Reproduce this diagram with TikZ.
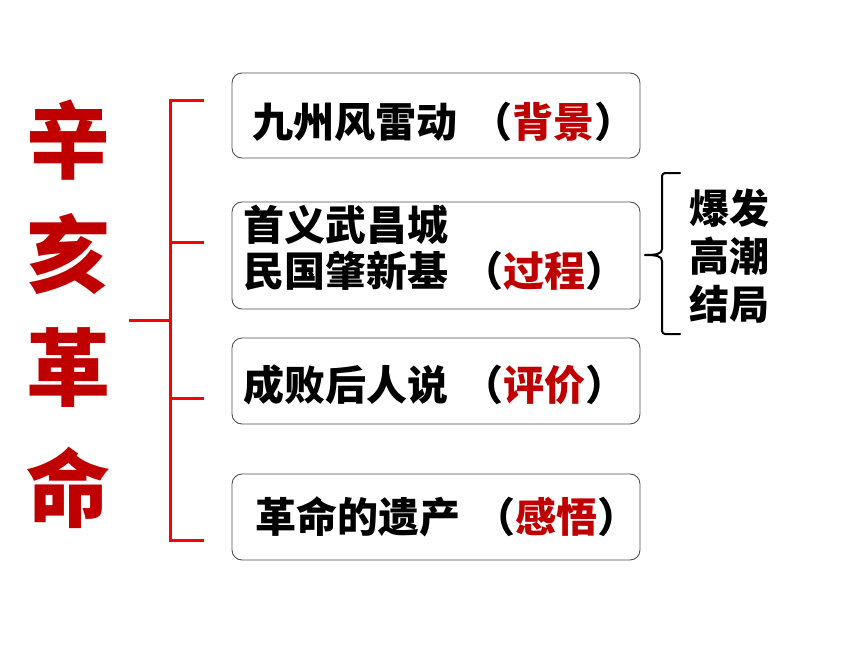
\documentclass[tikz,border=0pt]{standalone}
\usepackage{fontspec}
\setmainfont{Noto Sans CJK SC}
\definecolor{darkred}{HTML}{C00000}
\definecolor{brk}{HTML}{FF0000}
\definecolor{boxline}{HTML}{505050}
\newcommand{\lp}{\makebox[55pt][r]{（}}
\newcommand{\rp}{\makebox[42pt][l]{）}}
\newcommand{\rd}[1]{\textcolor{darkred}{#1}}
\begin{document}
\begin{tikzpicture}[x=1pt,y=-1pt,
  box/.style={draw=boxline,line width=0.9pt,rounded corners=10pt},
  txt/.style={inner sep=0pt,anchor=west,font=\fontsize{41}{46}\selectfont\bfseries,align=left},
  ttl/.style={inner sep=0pt,font=\fontsize{84}{84}\selectfont\bfseries,text=darkred},
  brkt/.style={draw=brk,line width=3pt},
  brace/.style={draw=black,line width=2pt,line cap=round,line join=round}]
\useasboundingbox (0,0) rectangle (860,645);
\fill[white] (0,0) rectangle (860,645);
% title
\node[ttl] (t1) at (68,140) {辛};
\node[ttl] (t2) at (68,254) {亥};
\node[ttl] (t3) at (68,368) {革};
\node[ttl] (t4) at (68,488) {命};
% boxes
\draw[box] (232,73) rectangle (640,158);
\draw[box] (232,202) rectangle (640,309);
\draw[box] (232,338) rectangle (640,424);
\draw[box] (232,474) rectangle (640,560);
\node[txt] (b1) at (252,122) {九州风雷动\lp\rd{背景}\rp};
\node[txt] (b2) at (243,248) {首义武昌城\\民国肇新基\lp\rd{过程}\rp};
\node[txt] (b3) at (243,385) {成败后人说\lp\rd{评价}\rp};
\node[txt] (b4) at (255,517) {革命的遗产\lp\rd{感悟}\rp};
% red bracket
\coordinate (k1) at (204,100);
\coordinate (k2) at (204,242);
\coordinate (k3) at (204,398);
\coordinate (k4) at (204,540);
\coordinate (st) at (129,320);
\coordinate (vt) at (170,100);
\coordinate (vb) at (170,540);
\draw[brkt] (k1) -- (vt) -- (vb) -- (k4);
\draw[brkt] (k2) -- (170,242);
\draw[brkt] (k3) -- (170,398);
\draw[brkt] (st) -- (170,320);
% right brace
\draw[brace,rounded corners=3pt] (680,173) -- (662,173) -- (662,249);
\draw[brace] (662,249) .. controls (662,254) and (656,255) .. (645,255);
\draw[brace] (645,255) .. controls (656,255) and (662,256) .. (662,261);
\draw[brace,rounded corners=3pt] (662,261) -- (662,334) -- (680,334);
\node[inner sep=0pt,anchor=west,font=\fontsize{40}{48}\selectfont\bfseries,align=left] (r) at (689,256) {爆发\\高潮\\结局};
\end{tikzpicture}
\end{document}
